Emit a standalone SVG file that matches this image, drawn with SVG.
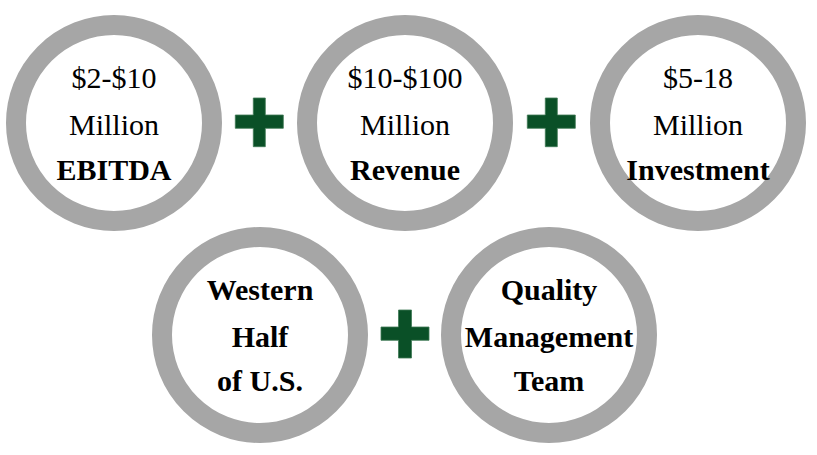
<svg xmlns="http://www.w3.org/2000/svg" width="817" height="455" viewBox="0 0 817 455">
<style>
.ring{fill:#fff;stroke:#a6a6a6;stroke-width:20}
text{font-family:'Liberation Serif','DejaVu Serif',serif;font-size:30px;fill:#000;text-anchor:middle}
.b{font-weight:bold}
.plus{fill:#0a5027;stroke:#3f7a55;stroke-width:0.8}
</style>
<rect width="817" height="455" fill="#fff"/>
<g id="node-ebitda">
<circle class="ring" cx="114" cy="123" r="98"/>
<text x="114" y="88">$2-$10</text>
<text x="114" y="135">Million</text>
<text class="b" x="114" y="180">EBITDA</text>
</g>
<g id="node-revenue">
<circle class="ring" cx="405" cy="123" r="98"/>
<text x="405" y="88">$10-$100</text>
<text x="405" y="135">Million</text>
<text class="b" x="405" y="180">Revenue</text>
</g>
<g id="node-investment">
<circle class="ring" cx="698" cy="123" r="98"/>
<text x="698" y="88">$5-18</text>
<text x="698" y="135">Million</text>
<text class="b" x="698" y="180">Investment</text>
</g>
<g id="node-western">
<circle class="ring" cx="260" cy="335" r="98"/>
<text class="b" x="260" y="300">Western</text>
<text class="b" x="260" y="347">Half</text>
<text class="b" x="260" y="391">of U.S.</text>
</g>
<g id="node-management">
<circle class="ring" cx="549" cy="335" r="98"/>
<text class="b" x="549" y="300">Quality</text>
<text class="b" x="549" y="347">Management</text>
<text class="b" x="549" y="391">Team</text>
</g>
<g id="connectors">
<path class="plus" d="M253.3 98h12v17h18v13.3h-18v18.4h-12v-18.4h-18v-13.3h18z"/>
<path class="plus" d="M545.3 98h12v17h18v13.3h-18v18.4h-12v-18.4h-18v-13.3h18z"/>
<path class="plus" d="M398.5 310h13v17h17.5v13.3h-17.5v17.7h-13v-17.7h-17.5v-13.3h17.5z"/>
</g>
</svg>
